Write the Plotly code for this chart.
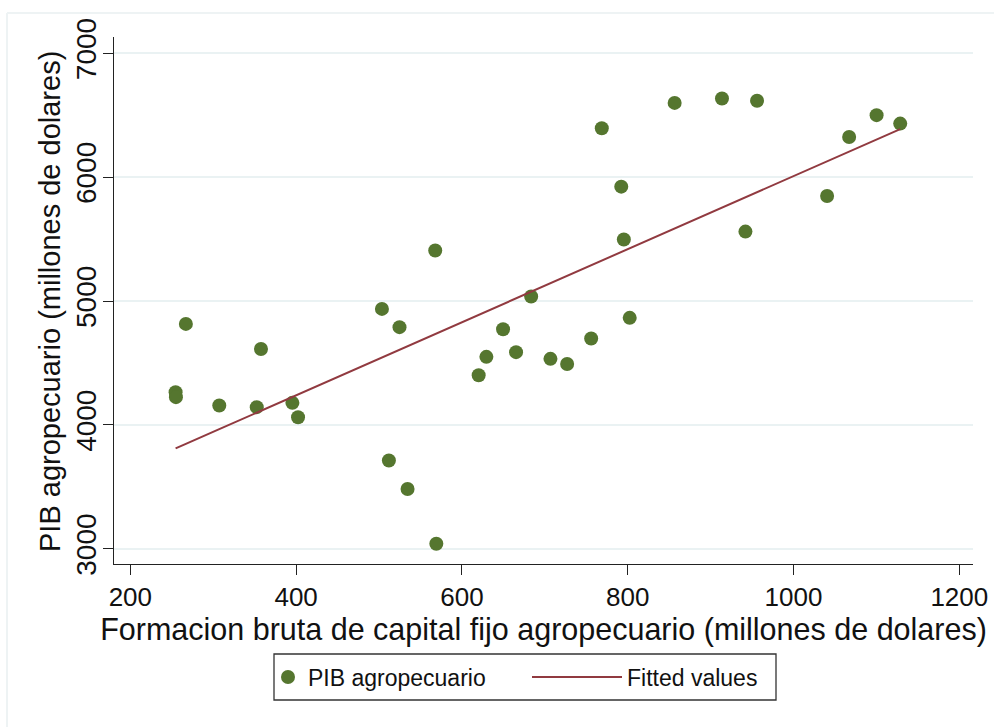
import numpy as np
import plotly.graph_objects as go

# Formacion bruta de capital fijo agropecuario (millones de dolares)
fbcf = [254.6, 255.0, 267.0, 307.3, 352.5, 357.6, 395.5, 402.3, 503.5, 511.9,
        524.7, 534.4, 567.8, 569.1, 620.2, 629.5, 649.6, 665.3, 683.5, 706.8,
        726.9, 755.9, 768.7, 792.2, 795.3, 802.4, 856.6, 913.7, 956.0, 942.0,
        1040.5, 1067.1, 1100.2, 1128.7]
# PIB agropecuario (millones de dolares)
pib = [4264, 4224, 4815, 4156, 4143, 4613, 4178, 4062, 4936, 3712,
       4789, 3483, 5407, 3040, 4401, 4549, 4772, 4587, 5036, 4533,
       4492, 4697, 6395, 5923, 5497, 4864, 6599, 6634, 6617, 5560,
       5848, 6324, 6500, 6432]

x_ticks = [200, 400, 600, 800, 1000, 1200]
y_ticks = [3000, 4000, 5000, 6000, 7000]

# Linear fit (Fitted values)
b1, b0 = np.polyfit(fbcf, pib, 1)
xs = np.array(sorted(fbcf))
fit = b0 + b1 * xs

GREEN = "#55762F"
RED = "#913A40"
FONT = "Liberation Sans, Arial, sans-serif"

fig = go.Figure()
fig.add_trace(go.Scatter(
    x=fbcf, y=pib, mode="markers", name="PIB agropecuario",
    marker=dict(color=GREEN, size=14, line=dict(width=0)),
    legend="legend",
))
fig.add_trace(go.Scatter(
    x=xs, y=fit, mode="lines", name="Fitted values",
    line=dict(color=RED, width=2),
    legend="legend2",
))

L, R, T, B = 114, 21, 37, 163
W, H = 994, 727
pw, ph = W - L - R, H - T - B

def px_x(px):
    return (px - L) / pw

def px_y(py):
    return (H - B - py) / ph

leg_common = dict(
    orientation="h", yanchor="middle", y=px_y(677),
    borderwidth=0, bgcolor="rgba(0,0,0,0)",
    font=dict(size=23, family=FONT, color="#111111"),
)

fig.update_layout(
    width=W, height=H,
    margin=dict(l=L, r=R, t=T, b=B, pad=0, autoexpand=False),
    paper_bgcolor="white", plot_bgcolor="white",
    font=dict(family=FONT, color="#111111"),
    showlegend=True,
    legend=dict(x=px_x(268), xanchor="left", itemwidth=30, **leg_common),
    legend2=dict(x=px_x(527), xanchor="left", itemwidth=90, **leg_common),
    xaxis=dict(
        range=[180.3, 1216.5], tickmode="array", tickvals=x_ticks,
        ticktext=[str(v) for v in x_ticks], automargin=False,
        showgrid=False, zeroline=False,
        showline=True, linecolor="#222222", linewidth=1.4,
        ticks="outside", ticklen=10, tickwidth=1.4, tickcolor="#222222",
        tickfont=dict(size=26, family=FONT, color="#111111"),
        title=dict(text="Formacion bruta de capital fijo agropecuario (millones de dolares)",
                   font=dict(size=30.5, family=FONT, color="#111111"), standoff=0),
    ),
    yaxis=dict(
        range=[2877, 7131], tickmode="array", tickvals=y_ticks,
        ticktext=[str(v) for v in y_ticks], automargin=False,
        showgrid=True, gridcolor="#EAF2F3", gridwidth=1.5,
        zeroline=False,
        showline=True, linecolor="#222222", linewidth=1.4,
        ticks="outside", ticklen=10, tickwidth=1.4, tickcolor="#222222",
        tickangle=-90, ticklabelstandoff=-4,
        tickfont=dict(size=28, family=FONT, color="#111111"),
    ),
    annotations=[
        dict(text="PIB agropecuario (millones de dolares)", textangle=-90,
             xref="paper", yref="paper", x=px_x(50), y=px_y(302),
             xanchor="center", yanchor="middle", showarrow=False,
             font=dict(size=29, family=FONT, color="#111111")),
    ],
    shapes=[
        dict(type="line", xref="paper", yref="paper",
             x0=px_x(7), x1=px_x(1000), y0=px_y(13), y1=px_y(13),
             line=dict(color="#EEF3F4", width=2), layer="below"),
        dict(type="line", xref="paper", yref="paper",
             x0=px_x(7), x1=px_x(7), y0=px_y(13), y1=px_y(730),
             line=dict(color="#EEF3F4", width=2), layer="below"),
        dict(type="rect", xref="paper", yref="paper",
             x0=px_x(274), x1=px_x(776), y0=px_y(700), y1=px_y(654),
             line=dict(color="#333333", width=1.3), fillcolor="rgba(0,0,0,0)"),
    ],
)

fig.write_html("out.html")
